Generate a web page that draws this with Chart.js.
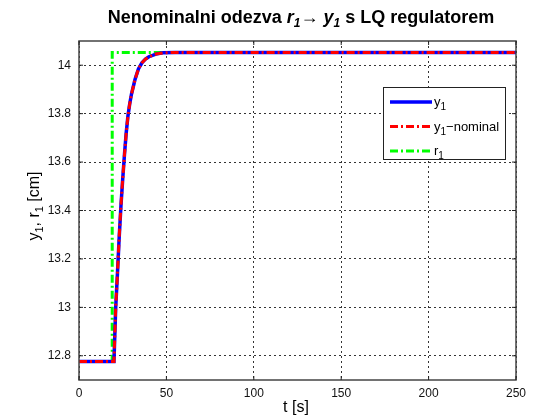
<!DOCTYPE html>
<html>
<head>
<meta charset="utf-8">
<script src="https://cdn.jsdelivr.net/npm/chart.js@4/dist/chart.umd.min.js"></script>
<style>
html, body { margin: 0; padding: 0; background: #fff; }
#c { display: block; }
</style>
</head>
<body>
<canvas id="c" width="533" height="420"></canvas>
<script>
// time axis [s] and responses [cm]
var tTime = [0, 20, 21, 22, 23, 24, 25, 26, 27, 28, 29, 30, 32, 34, 36, 38, 40, 44, 48, 55, 250];
var y1 = [12.776, 12.776, 13.0, 13.14, 13.29, 13.42, 13.53, 13.63, 13.72, 13.79, 13.84, 13.88, 13.94, 13.985, 14.01, 14.025, 14.035, 14.046, 14.051, 14.053, 14.053];
var y1Nominal = [12.776, 12.776, 13.0, 13.14, 13.29, 13.42, 13.53, 13.63, 13.72, 13.79, 13.84, 13.88, 13.94, 13.985, 14.01, 14.025, 14.035, 14.046, 14.051, 14.053, 14.053];
var rTime = [0, 19, 19, 250];
var r1 = [12.776, 12.776, 14.053, 14.053];

var xTicks = [0, 50, 100, 150, 200, 250];
var yTicks = [12.8, 13, 13.2, 13.4, 13.6, 13.8, 14];

function pts(xs, ys) {
  return xs.map(function (x, i) { return { x: x, y: ys[i] }; });
}

var FONT = '"Liberation Sans", Arial, Helvetica, sans-serif';
var DASHDOT = [8, 3, 2, 3];

// draws text made of pieces (normal / italic / subscript)
function richText(ctx, parts, x, y, align) {
  var w = 0;
  parts.forEach(function (p) { ctx.font = p.f; w += ctx.measureText(p.t).width; });
  var cx = align === 'center' ? x - w / 2 : x;
  ctx.textBaseline = 'alphabetic';
  ctx.textAlign = 'left';
  parts.forEach(function (p) {
    ctx.font = p.f;
    ctx.fillText(p.t, cx, y + (p.dy || 0));
    cx += ctx.measureText(p.t).width;
  });
}

var extras = {
  id: 'extras',
  afterDraw: function (chart) {
    var ctx = chart.ctx;
    var a = chart.chartArea;
    var sx = chart.scales.x, sy = chart.scales.y;
    ctx.save();

    // box and inward ticks
    ctx.strokeStyle = '#444';
    ctx.lineWidth = 1.5;
    ctx.setLineDash([]);
    ctx.strokeRect(a.left, a.top, a.right - a.left, a.bottom - a.top);
    ctx.lineWidth = 1;
    ctx.strokeStyle = '#222';
    ctx.beginPath();
    xTicks.forEach(function (v) {
      var px = sx.getPixelForValue(v);
      ctx.moveTo(px, a.bottom); ctx.lineTo(px, a.bottom - 4);
      ctx.moveTo(px, a.top); ctx.lineTo(px, a.top + 4);
    });
    yTicks.forEach(function (v) {
      var py = sy.getPixelForValue(v);
      ctx.moveTo(a.left, py); ctx.lineTo(a.left + 4, py);
      ctx.moveTo(a.right, py); ctx.lineTo(a.right - 4, py);
    });
    ctx.stroke();

    ctx.fillStyle = '#000';
    // title
    var b = 'bold 18px ' + FONT, bi = 'italic bold 18px ' + FONT, bs = 'italic bold 12px ' + FONT;
    richText(ctx, [
      { t: 'Nenominalni odezva ', f: b },
      { t: 'r', f: bi }, { t: '1', f: bs, dy: 4 },
      { t: '\u2192 ', f: b },
      { t: 'y', f: bi }, { t: '1', f: bs, dy: 4 },
      { t: ' s LQ regulatorem', f: b }
    ], 301, 23, 'center');

    // x axis title
    ctx.font = '16px ' + FONT;
    ctx.textAlign = 'center';
    ctx.textBaseline = 'middle';
    ctx.fillText('t [s]', 296, 408);

    // y axis title
    ctx.save();
    ctx.translate(39, 206);
    ctx.rotate(-Math.PI / 2);
    var n = '16px ' + FONT, s = '11px ' + FONT;
    richText(ctx, [
      { t: 'y', f: n }, { t: '1', f: s, dy: 4 }, { t: ', r', f: n }, { t: '1', f: s, dy: 4 }, { t: ' [cm]', f: n }
    ], 0, 0, 'center');
    ctx.restore();

    // legend
    var lx = 383, ly = 87, lw = 122, lh = 72;
    ctx.fillStyle = '#fff';
    ctx.fillRect(lx, ly, lw, lh);
    ctx.strokeStyle = '#222';
    ctx.lineWidth = 1;
    ctx.strokeRect(lx + 0.5, ly + 0.5, lw, lh);
    var rows = [
      { c: '#0000ff', w: 3.5, d: [], label: [{ t: 'y', f: '13px ' + FONT }, { t: '1', f: '10px ' + FONT, dy: 4 }] },
      { c: '#ff0000', w: 3, d: DASHDOT, label: [{ t: 'y', f: '13px ' + FONT }, { t: '1', f: '10px ' + FONT, dy: 4 }, { t: '\u2212nominal', f: '13px ' + FONT }] },
      { c: '#00ff00', w: 3, d: DASHDOT, label: [{ t: 'r', f: '13px ' + FONT }, { t: '1', f: '10px ' + FONT, dy: 4 }] }
    ];
    rows.forEach(function (r, i) {
      var yy = 102 + i * 24.5;
      ctx.strokeStyle = r.c;
      ctx.lineWidth = r.w;
      ctx.setLineDash(r.d);
      ctx.beginPath();
      ctx.moveTo(390, yy); ctx.lineTo(432, yy);
      ctx.stroke();
      ctx.setLineDash([]);
      ctx.fillStyle = '#000';
      richText(ctx, r.label, 434, yy + 4, 'left');
    });
    ctx.restore();
  }
};

new Chart(document.getElementById('c'), {
  type: 'line',
  data: {
    datasets: [
      { label: 'y1', data: pts(tTime, y1), borderColor: '#0000ff', borderWidth: 3.5, pointRadius: 0, order: 1 },
      { label: 'y1-nominal', data: pts(tTime, y1Nominal), borderColor: '#ff0000', borderWidth: 3, borderDash: DASHDOT, pointRadius: 0, order: 0 },
      { label: 'r1', data: pts(rTime, r1), borderColor: '#00ff00', borderWidth: 3, borderDash: DASHDOT, pointRadius: 0, order: 2 }
    ]
  },
  options: {
    responsive: false,
    animation: false,
    events: [],
    layout: { padding: { top: 41, right: 17, left: 0, bottom: 0 } },
    plugins: { legend: { display: false }, tooltip: { enabled: false }, title: { display: false } },
    scales: {
      x: {
        type: 'linear', min: 0, max: 250,
        afterBuildTicks: function (s) { s.ticks = xTicks.map(function (v) { return { value: v }; }); },
        afterFit: function (s) { s.height = 40; },
        grid: { color: '#333', lineWidth: 1, drawTicks: false },
        border: { display: false, dash: [2, 3] },
        ticks: { padding: 6, color: '#111', font: { family: FONT, size: 12 }, maxRotation: 0 }
      },
      y: {
        type: 'linear', min: 12.7, max: 14.1,
        afterBuildTicks: function (s) { s.ticks = yTicks.map(function (v) { return { value: v }; }); },
        afterFit: function (s) { s.width = 79; },
        grid: { color: '#333', lineWidth: 1, drawTicks: false },
        border: { display: false, dash: [2, 3] },
        ticks: { padding: 8, color: '#111', font: { family: FONT, size: 12 }, callback: function (v) { return String(v); } }
      }
    }
  },
  plugins: [extras]
});
</script>
</body>
</html>
